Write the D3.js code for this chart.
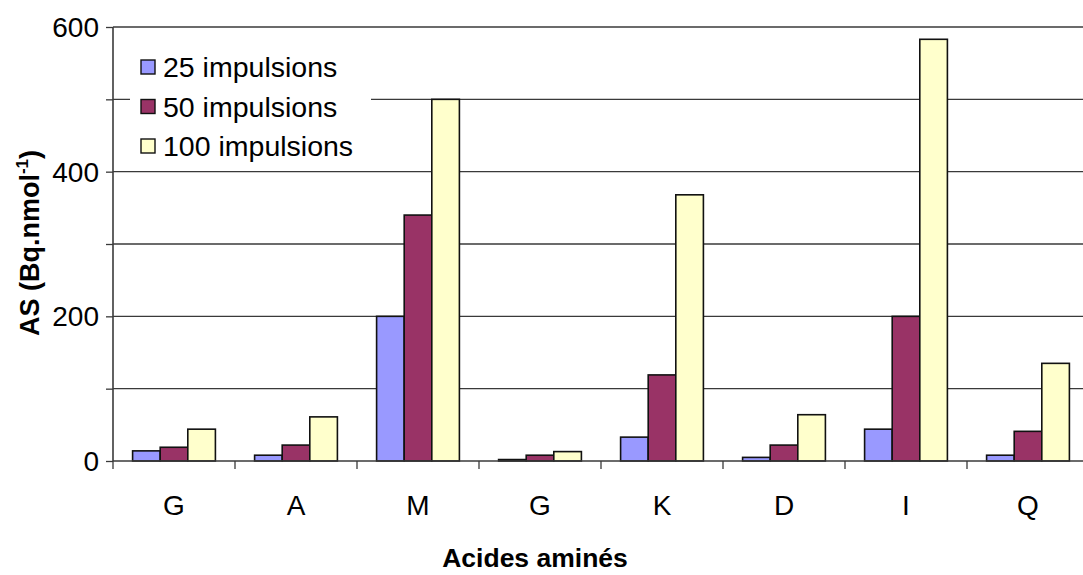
<!DOCTYPE html>
<html><head><meta charset="utf-8">
<script src="https://cdn.jsdelivr.net/npm/d3@7"></script>
<style>body{margin:0;background:#fff}svg{display:block;font-family:"Liberation Sans",Arial,sans-serif}</style>
</head><body><svg id="c" width="1083" height="575"></svg>
<script>
const categories = ["G","A","M","G","K","D","I","Q"];
const seriesNames = ["25 impulsions","50 impulsions","100 impulsions"];
const s25 = [14, 8, 200, 2, 33, 5, 44, 8];
const s50 = [19, 22, 340, 8, 119, 22, 200, 41];
const s100 = [44, 61, 500, 13, 368, 64, 583, 135];
const yTickLabels = [0, 200, 400, 600];
const colors = ["#9999FF","#993366","#FFFFCC"];
const series = [s25, s50, s100];

const svg = d3.select("#c");
const L = 113, R = 1089, T = 27, B = 461;
const idx = categories.map((_, i) => i);
const x0 = d3.scaleBand().domain(idx).range([L, R]).padding(0);
const x1 = d3.scaleBand().domain([0,1,2]).range([0, x0.bandwidth()]).paddingInner(0).paddingOuter(0.71);
const y = d3.scaleLinear().domain([0, 600]).range([B, T]);

svg.append("g").selectAll("line").data(d3.range(100, 601, 100)).join("line")
  .attr("x1", L).attr("x2", R).attr("y1", d => y(d)).attr("y2", d => y(d))
  .attr("stroke", "#3a3a3a").attr("stroke-width", 1.3);

series.forEach((s, si) => {
  svg.append("g").selectAll("rect").data(s).join("rect")
    .attr("x", (d, i) => x0(i) + x1(si))
    .attr("width", x1.bandwidth())
    .attr("y", d => y(d))
    .attr("height", d => y(0) - y(d))
    .attr("fill", colors[si]).attr("stroke", "#111").attr("stroke-width", 1.6);
});

const yAxis = d3.axisLeft(y).tickValues(d3.range(0, 601, 100)).tickSize(7)
  .tickFormat(d => yTickLabels.includes(d) ? d : "");
const gy = svg.append("g").attr("transform", `translate(${L},0)`).call(yAxis);
gy.select(".domain").attr("stroke", "#3a3a3a").attr("stroke-width", 1.6).attr("d", `M-0,${T}V${B}`);
gy.selectAll(".tick line").attr("stroke", "#3a3a3a").attr("stroke-width", 1.3);
gy.selectAll(".tick text").attr("font-size", 28).attr("fill", "#000").attr("x", -14).attr("dy", "0.34em")
  .attr("font-family", "Liberation Sans, Arial, sans-serif");

const gx = svg.append("g").attr("transform", `translate(0,${B})`);
gx.append("line").attr("x1", L).attr("x2", R).attr("stroke", "#3a3a3a").attr("stroke-width", 1.6);
gx.selectAll("line.t").data(d3.range(0, categories.length + 1)).join("line").attr("class", "t")
  .attr("x1", i => L + i * x0.step()).attr("x2", i => L + i * x0.step())
  .attr("y1", 0).attr("y2", 8).attr("stroke", "#3a3a3a").attr("stroke-width", 1.3);
gx.selectAll("text").data(idx).join("text")
  .attr("x", i => x0(i) + x0.bandwidth() / 2).attr("y", 54)
  .attr("text-anchor", "middle").attr("font-size", 28).text(i => categories[i]);

svg.append("text").attr("x", 535).attr("y", 567).attr("text-anchor", "middle")
  .attr("font-size", 26.5).attr("font-weight", "bold").text("Acides aminés");
const yt = svg.append("text").attr("transform", "translate(39,243) rotate(-90)")
  .attr("text-anchor", "middle").attr("font-size", 27).attr("font-weight", "bold");
yt.append("tspan").text("AS (Bq.nmol");
yt.append("tspan").attr("font-size", 17).attr("dy", -11).text("-1");
yt.append("tspan").attr("dy", 11).text(")");

const lg = svg.append("g");
lg.append("rect").attr("x", 130).attr("y", 44).attr("width", 241).attr("height", 124).attr("fill", "#fff");
seriesNames.forEach((n, i) => {
  const cy = 67 + i * 39.5;
  lg.append("rect").attr("x", 141).attr("y", cy - 7).attr("width", 14).attr("height", 14)
    .attr("fill", colors[i]).attr("stroke", "#111").attr("stroke-width", 1.4);
  lg.append("text").attr("x", 163).attr("y", cy).attr("dy", "0.36em").attr("font-size", 28.5).text(n);
});
</script></body></html>
